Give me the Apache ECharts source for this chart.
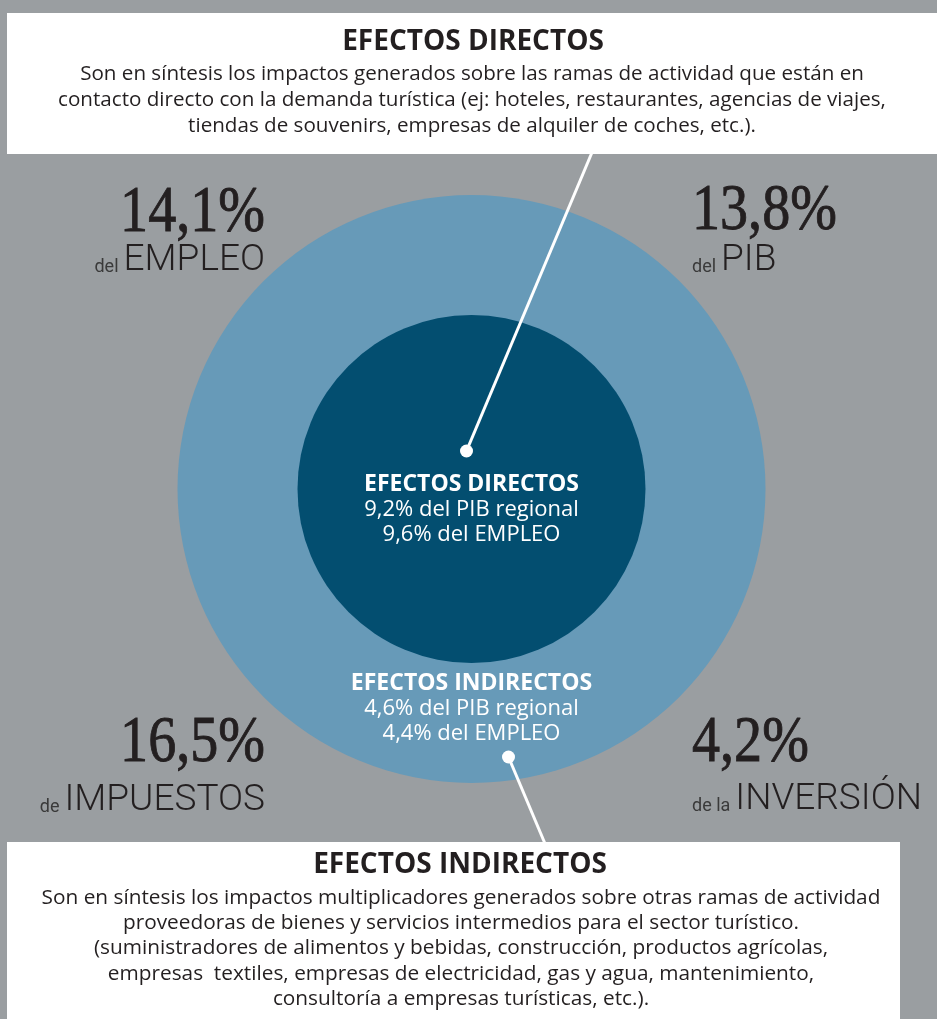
<!DOCTYPE html>
<html>
<head>
<meta charset="utf-8">
<script src="https://cdn.jsdelivr.net/npm/echarts@6/dist/echarts.min.js"></script>
<style>
  html, body { margin: 0; padding: 0; background: #9a9ea1; }
  #chart { width: 937px; height: 1019px; }
</style>
</head>
<body>
<div id="chart"></div>
<script>
// datos del gráfico
var efectos = ['EFECTOS DIRECTOS', 'EFECTOS INDIRECTOS'];
var pibRegional = [9.2, 4.6];
var empleo = [9.6, 4.4];

// totales (esquinas)
var totalValores = [14.1, 13.8, 16.5, 4.2];
var totalPrefijos = ['del', 'del', 'de', 'de la'];
var totalNombres = ['EMPLEO', 'PIB', 'IMPUESTOS', 'INVERSIÓN'];

var textoDirectos = [
    'Son en síntesis los impactos generados sobre las ramas de actividad que están en',
    'contacto directo con la demanda turística (ej: hoteles, restaurantes, agencias de viajes,',
    'tiendas de souvenirs, empresas de alquiler de coches, etc.).'
];
var textoIndirectos = [
    'Son en síntesis los impactos multiplicadores generados sobre otras ramas de actividad',
    'proveedoras de bienes y servicios intermedios para el sector turístico.',
    '(suministradores de alimentos y bebidas, construcción, productos agrícolas,',
    'empresas  textiles, empresas de electricidad, gas y agua, mantenimiento,',
    'consultoría a empresas turísticas, etc.).'
];

function fmt(v) {
    return v.toFixed(1).replace('.', ',') + '%';
}

var ctx = document.createElement('canvas').getContext('2d');
function ancho(txt, font) {
    ctx.font = font;
    return ctx.measureText(txt).width;
}

var cx = 471.5, cy = 489;
var graficos = [];

// caja superior
graficos.push({ type: 'rect', z: 5, shape: { x: 7, y: 13, width: 930, height: 141 }, style: { fill: '#ffffff' } });
// caja inferior
graficos.push({ type: 'rect', z: 5, shape: { x: 7, y: 842, width: 893, height: 190 }, style: { fill: '#ffffff' } });

function texto(t, x, y, font, color, align, sx, grosor) {
    var st = { text: t, x: 0, y: 0, font: font, fill: color, textAlign: align, textVerticalAlign: 'middle' };
    if (grosor) {
        st.stroke = color;
        st.lineWidth = grosor;
    }
    graficos.push({ type: 'text', z: 20, x: x, y: y, scaleX: sx || 1, style: st });
}

// titulos de las cajas
texto(efectos[0], 473, 42, 'bold 28px "Open Sans"', '#231f20', 'center');
for (var i = 0; i < textoDirectos.length; i++) {
    texto(textoDirectos[i], 472, 74 + i * 26, '20px "Open Sans"', '#231f20', 'center', 1.03);
}
texto(efectos[1], 460, 865, 'bold 28px "Open Sans"', '#231f20', 'center');
for (var i = 0; i < textoIndirectos.length; i++) {
    texto(textoIndirectos[i], 461, 898 + i * 25.3, '20px "Open Sans"', '#231f20', 'center', 1.04);
}

// textos dentro de los circulos
var yIn = [484, 683];
for (var k = 0; k < efectos.length; k++) {
    texto(efectos[k], cx, yIn[k], 'bold 23px "Open Sans"', '#ffffff', 'center');
    texto(fmt(pibRegional[k]) + ' del PIB regional', cx, yIn[k] + 25.5, '22px "Open Sans"', '#ffffff', 'center');
    texto(fmt(empleo[k]) + ' del EMPLEO', cx, yIn[k] + 51, '22px "Open Sans"', '#ffffff', 'center');
}

// lineas indicadoras
graficos.push({ type: 'line', z: 15, shape: { x1: 593, y1: 150, x2: 466.5, y2: 451 }, style: { stroke: '#ffffff', lineWidth: 3 } });
graficos.push({ type: 'circle', z: 15, shape: { cx: 466.5, cy: 451, r: 6.5 }, style: { fill: '#ffffff' } });
graficos.push({ type: 'line', z: 15, shape: { x1: 508.5, y1: 757, x2: 546, y2: 846 }, style: { stroke: '#ffffff', lineWidth: 3 } });
graficos.push({ type: 'circle', z: 15, shape: { cx: 508.5, cy: 757, r: 6.5 }, style: { fill: '#ffffff' } });

// totales en las esquinas
var bigFont = '66px "Liberation Serif"';
var nomFont = '300 37px Roboto';
var preFont = '18px Roboto';
var esq = [
    { x: 265, yv: 214, yn: 261, lado: 'right' },
    { x: 692, yv: 212, yn: 261, lado: 'left' },
    { x: 265, yv: 744, yn: 801, lado: 'right' },
    { x: 692, yv: 744, yn: 800, lado: 'left' }
];
for (var j = 0; j < totalValores.length; j++) {
    var e = esq[j];
    texto(fmt(totalValores[j]), e.x, e.yv, bigFont, '#231f20', e.lado, 0.85, 0.9);
    var wNom = ancho(totalNombres[j], nomFont);
    var wPre = ancho(totalPrefijos[j], preFont);
    if (e.lado === 'right') {
        texto(totalNombres[j], e.x, e.yn, nomFont, '#231f20', 'right');
        texto(totalPrefijos[j], e.x - wNom - 5, e.yn + 6, preFont, '#3a3a3a', 'right');
    } else {
        texto(totalPrefijos[j], e.x, e.yn + 6, preFont, '#3a3a3a', 'left');
        texto(totalNombres[j], e.x + wPre + 5, e.yn, nomFont, '#231f20', 'left');
    }
}

var chart = echarts.init(document.getElementById('chart'), null, { renderer: 'canvas' });
chart.setOption({
    animation: false,
    backgroundColor: '#9a9ea1',
    series: [
        {
            type: 'pie',
            silent: true,
            center: [cx, cy],
            radius: [0, 294],
            label: { show: false },
            labelLine: { show: false },
            itemStyle: { color: '#679ab8', borderWidth: 0 },
            data: [{ name: efectos[1], value: pibRegional[1] }]
        },
        {
            type: 'pie',
            silent: true,
            center: [cx, cy],
            radius: [0, 174],
            label: { show: false },
            labelLine: { show: false },
            itemStyle: { color: '#034e70', borderWidth: 0 },
            data: [{ name: efectos[0], value: pibRegional[0] }]
        }
    ],
    graphic: { elements: graficos }
});
</script>
</body>
</html>
